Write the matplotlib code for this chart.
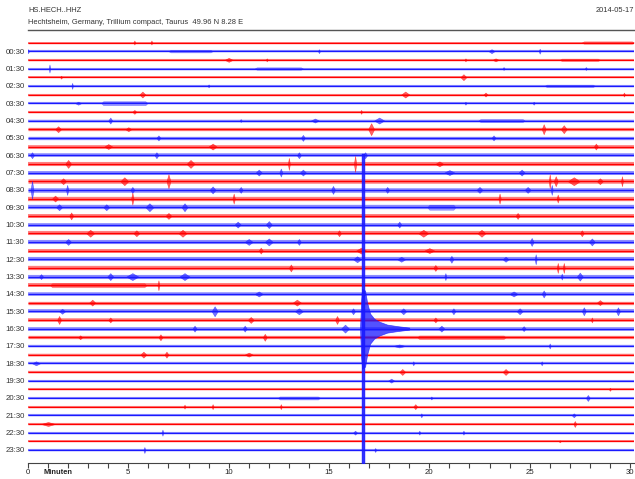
import numpy as np
import matplotlib
matplotlib.use("Agg")
import matplotlib.pyplot as plt

plt.rcParams['font.family'] = ['Liberation Sans', 'DejaVu Sans']

station = "HS.HECH..HHZ"
location = "Hechtsheim, Germany, Trillium compact, Taurus  49.96 N 8.28 E"
date_label = "2014-05-17"
minute_ticks = [0, 5, 10, 15, 20, 25, 30]

# one trace every 30 minutes, 48 traces for the day
n_traces = 48
trace_labels = ["%02d:30" % (i // 2) for i in range(1, n_traces, 2)]

# background noise half-amplitude (pixels) per trace
noise_px = [0.3, 0.4, 0.4, 0.4, 0.3, 0.4, 0.4, 0.4, 0.4, 0.6,
            1.0, 1.0, 1.2, 1.1, 1.4, 1.3, 1.6, 1.6, 1.5, 1.5,
            1.3, 1.2, 1.4, 1.4, 1.3, 1.4, 1.5, 1.4, 1.3, 1.1,
            1.0, 1.2, 1.1, 1.2, 1.0, 0.5, 0.6, 0.5, 0.5, 0.4,
            0.4, 0.4, 0.4, 0.4, 0.4, 0.4, 0.3, 0.4]

# bursts: (trace, minute, half-amplitude px, duration in minutes)
bursts = [
    (0, 5.3, 2, 0.1), (0, 6.15, 2, 0.1), (0, 28.9, 1.2, 2.6),
    (1, 0.0, 2, 0.1), (1, 8.1, 1.2, 2.2), (1, 14.5, 2, 0.1), (1, 23.1, 2, 0.3), (1, 25.5, 2.5, 0.1),
    (2, 10.0, 2, 0.4), (2, 11.9, 1.5, 0.1), (2, 21.8, 1.5, 0.1), (2, 23.3, 1.5, 0.3), (2, 27.5, 1.2, 2.0),
    (3, 1.07, 4, 0.08), (3, 12.5, 1.2, 2.4), (3, 23.7, 1.5, 0.1), (3, 27.8, 1.5, 0.1),
    (4, 1.65, 1.5, 0.1), (4, 21.7, 3, 0.3),
    (5, 2.2, 3, 0.08), (5, 9.0, 1.5, 0.1), (5, 27.0, 1.2, 2.5),
    (6, 5.7, 3, 0.3), (6, 18.8, 3, 0.4), (6, 22.8, 2, 0.2), (6, 29.7, 2, 0.1),
    (7, 2.5, 1.5, 0.3), (7, 4.8, 2, 2.3), (7, 21.8, 1.5, 0.1), (7, 25.2, 1.5, 0.1),
    (8, 5.3, 2, 0.2), (8, 16.6, 2, 0.1),
    (9, 4.1, 3, 0.2), (9, 10.6, 1.5, 0.1), (9, 14.3, 2, 0.4), (9, 17.5, 3, 0.5), (9, 23.6, 1.5, 2.3),
    (10, 1.5, 3, 0.3), (10, 5.0, 2, 0.3), (10, 17.1, 6, 0.3), (10, 25.7, 5, 0.2), (10, 26.7, 4, 0.3),
    (11, 6.5, 2.5, 0.2), (11, 13.7, 3, 0.2), (11, 23.2, 2.5, 0.2),
    (12, 9.2, 3, 0.4), (12, 4.0, 2.5, 0.4), (12, 28.3, 3, 0.2),
    (13, 0.2, 3, 0.2), (13, 6.4, 3, 0.2), (13, 13.5, 3, 0.2), (13, 16.8, 3, 0.2),
    (14, 2.0, 4, 0.3), (14, 8.1, 4, 0.4), (14, 13.0, 6, 0.1), (14, 16.3, 8, 0.12), (14, 20.5, 2.5, 0.4),
    (15, 11.5, 3, 0.3), (15, 12.6, 4, 0.15), (15, 13.7, 3, 0.3), (15, 24.6, 3, 0.3), (15, 21.0, 2.5, 0.5),
    (16, 1.75, 3, 0.3), (16, 4.8, 4, 0.4), (16, 7.0, 7, 0.2), (16, 26.0, 7, 0.1),
    (16, 26.3, 5, 0.2), (16, 27.2, 4, 0.6), (16, 28.5, 3, 0.3), (16, 29.6, 5, 0.1),
    (17, 0.2, 9, 0.15), (17, 1.95, 5, 0.12), (17, 5.2, 3, 0.2), (17, 9.2, 3.5, 0.3), (17, 10.6, 3, 0.2),
    (17, 15.2, 4, 0.2), (17, 17.9, 3, 0.2), (17, 22.5, 3, 0.3), (17, 24.9, 3, 0.3), (17, 26.1, 5, 0.1),
    (18, 1.35, 3, 0.3), (18, 5.2, 6, 0.12), (18, 10.25, 5, 0.12), (18, 23.5, 5, 0.12), (18, 26.4, 4, 0.12),
    (19, 1.55, 3, 0.3), (19, 3.9, 3, 0.3), (19, 6.05, 4, 0.4), (19, 7.8, 4, 0.3), (19, 20.6, 2.5, 1.4),
    (20, 2.15, 3.5, 0.2), (20, 7.0, 3, 0.3), (20, 24.4, 3, 0.2),
    (21, 10.45, 3, 0.3), (21, 12.0, 3.5, 0.3), (21, 18.5, 3, 0.2),
    (22, 3.1, 3.5, 0.4), (22, 5.4, 3, 0.3), (22, 7.7, 3.5, 0.4), (22, 15.5, 3, 0.2),
    (22, 19.7, 3.5, 0.5), (22, 22.6, 3.5, 0.4), (22, 27.6, 3, 0.2),
    (23, 2.0, 3, 0.3), (23, 11.0, 3, 0.4), (23, 12.0, 3.5, 0.4), (23, 13.5, 3, 0.2), (23, 25.1, 4, 0.2), (23, 28.1, 3.5, 0.3),
    (24, 11.6, 3, 0.2), (24, 16.6, 3, 0.5), (24, 20.0, 2.5, 0.5),
    (25, 16.4, 3, 0.4), (25, 18.6, 2.5, 0.4), (25, 21.1, 3.5, 0.2), (25, 23.8, 2.5, 0.3), (25, 25.3, 5, 0.1),
    (26, 13.1, 3.5, 0.2), (26, 20.3, 3, 0.2), (26, 26.4, 5, 0.1), (26, 26.7, 5, 0.1),
    (27, 0.65, 2.5, 0.2), (27, 4.1, 3.5, 0.3), (27, 5.2, 3.5, 0.6), (27, 7.8, 3.5, 0.5), (27, 20.8, 3.5, 0.1),
    (27, 26.6, 3, 0.1), (27, 27.5, 4, 0.3),
    (28, 3.5, 2, 4.8), (28, 6.5, 5, 0.1),
    (29, 11.5, 2.5, 0.4), (29, 16.7, 4, 0.2), (29, 24.2, 2.5, 0.4), (29, 25.7, 3.5, 0.2),
    (30, 3.2, 3, 0.3), (30, 13.4, 3, 0.4), (30, 28.5, 2.5, 0.3),
    (31, 1.7, 2.5, 0.3), (31, 9.3, 5, 0.3), (31, 13.5, 3, 0.4), (31, 18.7, 3, 0.3), (31, 21.2, 3, 0.2),
    (31, 24.5, 3, 0.3), (31, 27.7, 4, 0.2), (31, 29.4, 4, 0.2), (31, 16.2, 3, 0.2),
    (32, 1.55, 4, 0.2), (32, 4.1, 2.5, 0.2), (32, 11.1, 3, 0.3), (32, 15.4, 4, 0.2), (32, 20.3, 2.5, 0.2), (32, 28.1, 2.5, 0.1),
    (33, 8.3, 3, 0.2), (33, 10.8, 3, 0.2), (33, 15.8, 4, 0.4), (33, 20.6, 3, 0.3), (33, 24.7, 2.5, 0.2),
    (34, 2.6, 2, 0.2), (34, 6.6, 3, 0.2), (34, 11.8, 3.5, 0.2), (34, 21.6, 1.8, 4.4),
    (35, 26.0, 2.5, 0.1), (35, 18.5, 1.5, 0.6),
    (36, 5.75, 3, 0.3), (36, 6.9, 3, 0.2), (36, 11.0, 2, 0.4),
    (37, 0.4, 2, 0.4), (37, 19.2, 2, 0.1), (37, 25.6, 2, 0.1),
    (38, 18.65, 3, 0.3), (38, 23.8, 3, 0.3),
    (39, 18.1, 2, 0.3),
    (40, 29.0, 1.5, 0.1),
    (41, 13.5, 1.5, 2.1), (41, 20.1, 1.5, 0.1), (41, 27.9, 3, 0.2),
    (42, 7.8, 2, 0.1), (42, 9.2, 2.5, 0.1), (42, 12.6, 2.5, 0.1), (42, 19.3, 2.5, 0.2),
    (43, 19.6, 2, 0.1), (43, 27.2, 2, 0.2),
    (44, 1.0, 2, 0.7), (44, 27.25, 3, 0.15),
    (45, 6.7, 3, 0.1), (45, 16.3, 2, 0.2), (45, 19.5, 2, 0.1), (45, 21.7, 2, 0.1),
    (46, 26.5, 1, 0.1),
    (47, 5.8, 3, 0.1), (47, 17.3, 2, 0.1),
]

# the 16:30 earthquake
quake_trace = 33
quake_spike = (16.66, 16.8, 175)          # start, end minute, half-amplitude px
quake_env_min = [16.55, 16.6, 16.65, 16.8, 16.9, 17.05, 17.25, 17.5, 17.9, 18.4, 19.0]
quake_env_px = [2, 28, 40, 38, 26, 15, 10, 7, 4, 2.5, 1]

W, H = 635, 479
fig = plt.figure(figsize=(W / 100, H / 100), dpi=100)
ax = fig.add_axes([28 / W, 1 - 463 / H, 606 / W, 433.5 / H])

trace_px = 8.67          # vertical spacing of traces in pixels
px_pt = 72 / 100.0
colors = ['#ff0000', '#1a1aff']

for i in range(n_traces):
    c = colors[i % 2]
    # solid core line plus lighter band for the background noise
    ax.plot([0, 30.2], [-i, -i], color=c, lw=1.3 * px_pt,
            solid_capstyle='butt', zorder=3)
    ax.plot([0, 30.2], [-i, -i], color=c, lw=(1.3 + 2 * noise_px[i]) * px_pt,
            alpha=0.5, solid_capstyle='butt', zorder=2)

for tr, m, amp, dur in bursts:
    a = amp / trace_px
    y0 = -tr
    if dur >= 0.8:
        xs = [m - dur / 2, m - dur / 2 + 0.1, m + dur / 2 - 0.1, m + dur / 2]
        env = [0, a, a, 0]
        al = 0.4
    else:
        xs = [m - dur / 2, m, m + dur / 2]
        env = [0, a, 0]
        al = 0.6
    ax.fill_between(xs, [y0 + v for v in env], [y0 - v for v in env],
                    color=colors[tr % 2], lw=0.4, alpha=al, zorder=3)

qc = colors[quake_trace % 2]
q_env = [v / trace_px for v in quake_env_px]
ax.fill_between(quake_env_min, [-quake_trace + v for v in q_env],
                [-quake_trace - v for v in q_env], color=qc, lw=0.5, alpha=0.75, zorder=4)
s0, s1, sa = quake_spike
ax.fill_between([s0, s1], -quake_trace + sa / trace_px, -quake_trace - sa / trace_px,
                color=qc, lw=0.3, alpha=0.9, zorder=4)

ax.set_xlim(0, 30.2)
ax.set_ylim(-48.5, 1.5)

ax.set_xticks(minute_ticks)
ax.set_xticks(list(range(31)), minor=True)
ax.tick_params(axis='x', which='both', direction='out', length=3.5, width=0.8,
               color='#444444', labelsize=5.6, labelcolor='#222222', pad=0.8)
ax.set_yticks([-i for i in range(1, n_traces, 2)])
ax.set_yticklabels(trace_labels)
ax.tick_params(axis='y', length=0, labelsize=5.6, labelcolor='#333333', pad=2.5)

for s in ['left', 'right']:
    ax.spines[s].set_visible(False)
ax.spines['top'].set_color('#555555')
ax.spines['top'].set_linewidth(1.0)
ax.spines['bottom'].set_color('#444444')
ax.spines['bottom'].set_linewidth(0.8)

fig.text(43 / W, 1 - 472 / H, "Minuten", fontsize=5.4, fontweight='bold',
         color='#222222', va='center', ha='left')
fig.text(28 / W, 1 - 11 / H, station, fontsize=5.4, color='#333333', va='center')
fig.text(28 / W, 1 - 23 / H, location, fontsize=5.4, color='#333333', va='center')
fig.text(634 / W, 1 - 11 / H, date_label, fontsize=5.4, color='#333333',
         va='center', ha='right')

fig.savefig("out.png", dpi=100)
